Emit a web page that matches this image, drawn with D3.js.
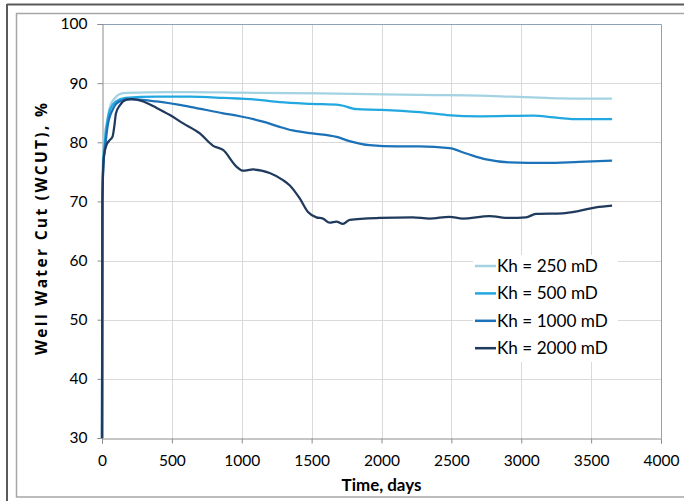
<!DOCTYPE html>
<html><head><meta charset="utf-8">
<script src="https://cdn.jsdelivr.net/npm/d3@7"></script>
<style>
html,body{margin:0;padding:0;background:#fff;}
svg{display:block;}
text{font-family:Lato,"Open Sans",sans-serif;fill:#000;}
</style></head>
<body>
<svg id="chart" width="684" height="501"></svg>
<script>
// ---- data ----
const seriesNames = ["Kh = 250 mD", "Kh = 500 mD", "Kh = 1000 mD", "Kh = 2000 mD"];
const seriesColors = ["#a3d3e3", "#22a8e0", "#1c72b8", "#1f3a5c"];

const days250 = [0, 2, 8, 20, 33, 57, 93, 152, 271, 450, 629, 986, 1343, 1800, 2271, 2700, 2936, 3178, 3400, 3650];
const wcut250 = [30, 70, 78, 81.5, 83.2, 86.0, 87.5, 88.3, 88.4, 88.5, 88.5, 88.4, 88.3, 88.2, 88.0, 87.9, 87.7, 87.5, 87.4, 87.4];

const days500 = [0, 2, 8, 20, 35, 57, 100, 167, 390, 629, 867, 1105, 1271, 1500, 1702, 1822, 2000, 2276, 2468, 2707, 3088, 3232, 3424, 3650];
const wcut500 = [30, 68, 76, 80, 83, 85.5, 86.9, 87.5, 87.7, 87.7, 87.5, 87.2, 86.8, 86.5, 86.3, 85.6, 85.5, 85.1, 84.6, 84.4, 84.5, 84.2, 83.9, 83.9];

const days1000 = [0, 3, 10, 20, 40, 76, 124, 195, 390, 629, 867, 986, 1152, 1271, 1364, 1507, 1679, 1771, 1914, 2107, 2271, 2486, 2607, 2750, 2914, 3179, 3414, 3650];
const wcut1000 = [30, 70, 76.5, 78.7, 82.7, 85.5, 86.9, 87.3, 86.9, 86.0, 84.9, 84.4, 83.5, 82.6, 82.0, 81.5, 80.9, 80.2, 79.5, 79.3, 79.3, 79.0, 78.1, 77.1, 76.6, 76.5, 76.7, 76.9];

const days2000 = [0, 3, 14, 33, 57, 76, 88, 100, 129, 176, 212, 295, 391, 486, 581, 700, 795, 866, 962, 1009, 1081, 1200, 1295, 1344, 1415, 1474, 1534, 1581, 1629, 1677, 1724, 1772, 1986, 2224, 2343, 2486, 2581, 2772, 2915, 3034, 3105, 3296, 3415, 3534, 3650];
const wcut2000 = [30, 70, 77.6, 79.6, 80.4, 81.0, 82.7, 84.9, 86.3, 87.2, 87.3, 86.9, 85.8, 84.6, 83.2, 81.5, 79.4, 78.7, 75.9, 75.2, 75.4, 74.8, 73.6, 72.7, 70.5, 68.2, 67.3, 67.1, 66.4, 66.6, 66.2, 66.9, 67.2, 67.3, 67.1, 67.4, 67.1, 67.5, 67.2, 67.3, 67.9, 68.0, 68.4, 69.0, 69.3];

const xTicks = [0, 500, 1000, 1500, 2000, 2500, 3000, 3500, 4000];
const yTicks = [30, 40, 50, 60, 70, 80, 90, 100];
const xTitle = "Time, days";
const yTitle = "Well Water Cut (WCUT), %";

const allDays = [days250, days500, days1000, days2000];
const allWcut = [wcut250, wcut500, wcut1000, wcut2000];

// ---- layout ----
const svg = d3.select("#chart");
const L = 102, R = 661, T = 24, B = 438;
const x = d3.scaleLinear().domain([0, 4000]).range([L, R]);
const y = d3.scaleLinear().domain([30, 100]).range([B, T]);

function fitText(sel, target) {
  const fs = parseFloat(sel.attr("font-size"));
  const len = sel.node().getComputedTextLength();
  if (len > 0) sel.attr("font-size", (fs * target / len).toFixed(2));
}

// frames
svg.append("line").attr("x1", 7).attr("x2", 684).attr("y1", 4.5).attr("y2", 4.5).attr("stroke", "#5a5a5a").attr("stroke-width", 2);
svg.append("line").attr("x1", 7).attr("x2", 7).attr("y1", 4).attr("y2", 501).attr("stroke", "#5a5a5a").attr("stroke-width", 2);
svg.append("rect").attr("x", 16.5).attr("y", 13.5).attr("width", 700).attr("height", 483.5)
  .attr("fill", "none").attr("stroke", "#a6a6a6").attr("stroke-width", 1.5);

// gridlines
svg.append("g").selectAll("line").data(yTicks.filter(v => v > 30 && v < 100)).join("line")
  .attr("x1", L).attr("x2", R).attr("y1", d => Math.round(y(d)) + 0.5).attr("y2", d => Math.round(y(d)) + 0.5)
  .attr("stroke", "#d9d9d9").attr("stroke-width", 1);
svg.append("g").selectAll("line").data(xTicks.filter(v => v > 0 && v < 4000)).join("line")
  .attr("y1", T).attr("y2", B).attr("x1", d => Math.round(x(d)) + 0.5).attr("x2", d => Math.round(x(d)) + 0.5)
  .attr("stroke", "#d9d9d9").attr("stroke-width", 1);

// plot border top/right
svg.append("path").attr("d", `M${L},${T + 0.5}H${R + 0.5}V${B}`).attr("fill", "none").attr("stroke", "#8fa2bd").attr("stroke-width", 1);

// axes
const xAxis = d3.axisBottom(x).tickValues(xTicks).tickSize(5).tickPadding(11).tickFormat(d3.format("d"));
const gx = svg.append("g").attr("transform", `translate(0,${B + 0.5})`).call(xAxis);
gx.select(".domain").attr("stroke", "#8c8c8c");
gx.selectAll(".tick line").attr("stroke", "#8c8c8c");
gx.selectAll("text").attr("font-size", 15.5).attr("font-family", "Lato").attr("fill", "#000");

const yAxis = d3.axisLeft(y).tickValues(yTicks).tickSize(5).tickPadding(10);
const gy = svg.append("g").attr("transform", `translate(${L + 0.5},0)`).call(yAxis);
gy.select(".domain").attr("stroke", "#8c8c8c");
gy.selectAll(".tick line").attr("stroke", "#8c8c8c");
gy.selectAll("text").attr("font-size", 15.5).attr("font-family", "Lato").attr("fill", "#000");

// titles
const xt = svg.append("text").attr("x", (L + R) / 2).attr("y", 491).attr("text-anchor", "middle")
  .attr("font-size", 16).attr("font-weight", "bold").text(xTitle);
fitText(xt, 80);
svg.append("text").attr("transform", `translate(47,${(T + B) / 2 - 2}) rotate(-90)`).attr("text-anchor", "middle")
  .style("font-family", "'Open Sans', Lato, sans-serif")
  .attr("font-size", 15.5).attr("font-weight", "bold")
  .attr("textLength", 252).attr("lengthAdjust", "spacing").text(yTitle);

// lines
const line = d3.line().x(d => x(d[0])).y(d => y(d[1])).curve(d3.curveMonotoneX);
allDays.forEach((days, i) => {
  const pts = days.map((t, j) => [t, allWcut[i][j]]);
  svg.append("path").datum(pts).attr("d", line).attr("fill", "none")
    .attr("stroke", seriesColors[i]).attr("stroke-width", 2.25).attr("stroke-linejoin", "round");
});

// legend
const lg = svg.append("g");
lg.append("rect").attr("x", 473).attr("y", 255).attr("width", 145).attr("height", 107).attr("fill", "#fff");
seriesNames.forEach((name, i) => {
  const cy = 266 + i * 27.4;
  lg.append("line").attr("x1", 475).attr("x2", 496).attr("y1", cy).attr("y2", cy)
    .attr("stroke", seriesColors[i]).attr("stroke-width", 2.5);
  const t = lg.append("text").attr("x", 497).attr("y", cy).attr("dy", "0.35em").attr("font-size", 16).text(name);
  if (i === 0) fitText(t, 101);
  else t.attr("font-size", lg.select("text").attr("font-size"));
});
</script>
</body></html>
